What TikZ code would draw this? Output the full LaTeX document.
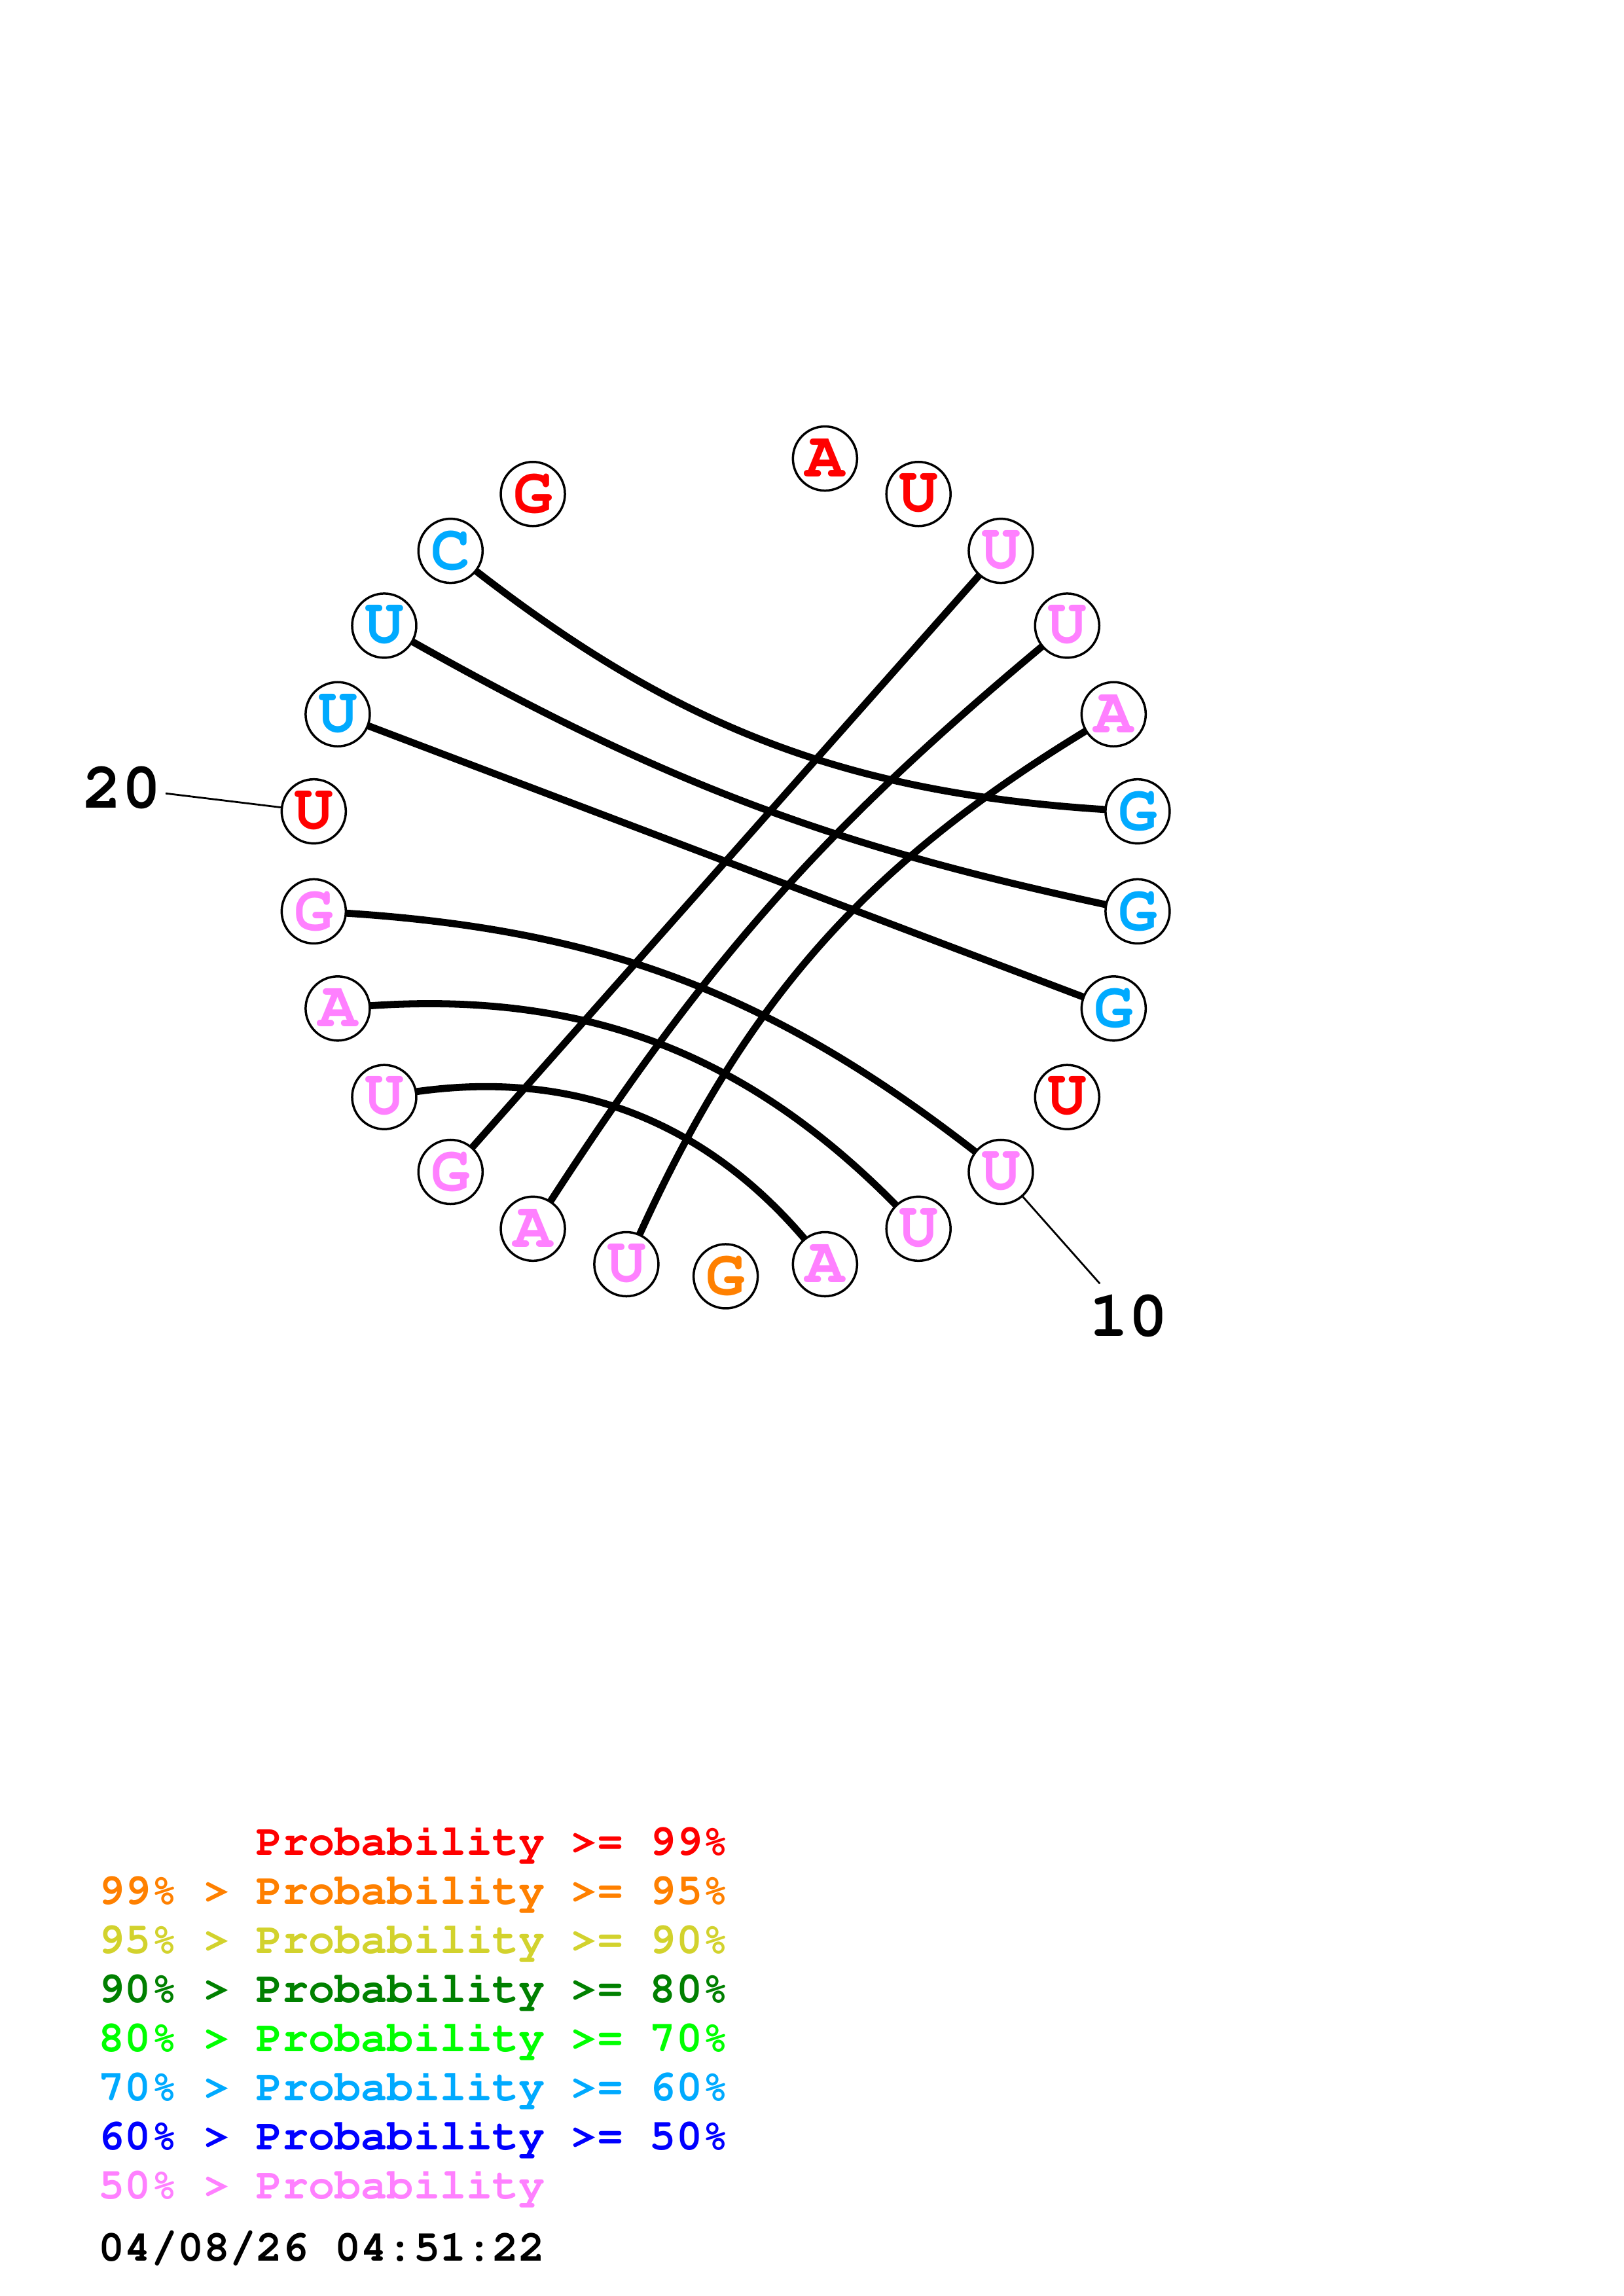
\documentclass[tikz,border=0pt]{standalone}
\usepackage[T1]{fontenc}
\usetikzlibrary{backgrounds}
\definecolor{prob99}{RGB}{255,0,0}
\definecolor{prob95}{RGB}{255,128,0}
\definecolor{prob90}{RGB}{210,210,45}
\definecolor{prob80}{RGB}{0,128,0}
\definecolor{prob70}{RGB}{0,255,0}
\definecolor{prob60}{RGB}{0,170,255}
\definecolor{prob50}{RGB}{0,0,255}
\definecolor{prob00}{RGB}{255,128,255}
\newcommand{\courbf}{\fontfamily{pcr}\fontseries{b}\selectfont}

\begin{document}
\begin{tikzpicture}[every node/.style={font=\courbf},
  nuc/.style={circle, draw, fill=white, line width=0.84pt, minimum size=0.83cm, inner sep=0pt, font=\courbf\fontsize{24}{24}\selectfont},
  pair/.style={line width=2.6pt},
  leader/.style={line width=0.68pt},
  num/.style={inner sep=0pt, font=\courbf\fontsize{24}{24}\selectfont},
  keyline/.style={anchor=base west, inner sep=0pt, font=\courbf\fontsize{16.1}{18}\selectfont}]
\useasboundingbox (0,0) rectangle (21,-29.7);
\begin{scope}[shift={(9.386,-11.142)}]
\node[nuc,text=prob99] (n1) at (76.15:5.367) {A};
\node[nuc,text=prob99] (n2) at (62.31:5.367) {U};
\node[nuc,text=prob00] (n3) at (48.46:5.367) {U};
\node[nuc,text=prob00] (n4) at (34.62:5.367) {U};
\node[nuc,text=prob00] (n5) at (20.77:5.367) {A};
\node[nuc,text=prob60] (n6) at (6.92:5.367) {G};
\node[nuc,text=prob60] (n7) at (-6.92:5.367) {G};
\node[nuc,text=prob60] (n8) at (-20.77:5.367) {G};
\node[nuc,text=prob99] (n9) at (-34.62:5.367) {U};
\node[nuc,text=prob00] (n10) at (-48.46:5.367) {U};
\node[nuc,text=prob00] (n11) at (-62.31:5.367) {U};
\node[nuc,text=prob00] (n12) at (-76.15:5.367) {A};
\node[nuc,text=prob95] (n13) at (-90:5.367) {G};
\node[nuc,text=prob00] (n14) at (-103.85:5.367) {U};
\node[nuc,text=prob00] (n15) at (-117.69:5.367) {A};
\node[nuc,text=prob00] (n16) at (-131.54:5.367) {G};
\node[nuc,text=prob00] (n17) at (-145.38:5.367) {U};
\node[nuc,text=prob00] (n18) at (-159.23:5.367) {A};
\node[nuc,text=prob00] (n19) at (-173.08:5.367) {G};
\node[nuc,text=prob99] (n20) at (173.08:5.367) {U};
\node[nuc,text=prob60] (n21) at (159.23:5.367) {U};
\node[nuc,text=prob60] (n22) at (145.38:5.367) {U};
\node[nuc,text=prob60] (n23) at (131.54:5.367) {C};
\node[nuc,text=prob99] (n24) at (117.69:5.367) {G};
\begin{pgfonlayer}{background}
\draw[pair] (n23.center) to[bend right=18] (n6.center);
\draw[pair] (n22.center) to[bend right=9] (n7.center);
\draw[pair] (n21.center) -- (n8.center);
\draw[pair] (n10.center) to[bend right=18] (n19.center);
\draw[pair] (n11.center) to[bend right=26.5] (n18.center);
\draw[pair] (n12.center) to[bend right=32] (n17.center);
\draw[pair] (n3.center) -- (n16.center);
\draw[pair] (n4.center) to[bend right=9] (n15.center);
\draw[pair] (n5.center) to[bend right=18] (n14.center);
\end{pgfonlayer}
\coordinate (t10) at (-48.46:7.298);
\coordinate (t20) at (173.08:7.298);
\draw[leader] (n10) -- (t10);
\draw[leader] (n20) -- (t20);
\node[num] (l10) at (-48.46:7.864) {10};
\node[num] (l20) at (173.08:7.864) {20};
\end{scope}
\node[keyline,text=prob99] (k99) at (1.27,-23.996) {\phantom{99\% > }Probability >= 99\%};
\node[keyline,text=prob95] (k95) at (1.27,-24.631) {99\% > Probability >= 95\%};
\node[keyline,text=prob90] (k90) at (1.27,-25.266) {95\% > Probability >= 90\%};
\node[keyline,text=prob80] (k80) at (1.27,-25.901) {90\% > Probability >= 80\%};
\node[keyline,text=prob70] (k70) at (1.27,-26.536) {80\% > Probability >= 70\%};
\node[keyline,text=prob60] (k60) at (1.27,-27.171) {70\% > Probability >= 60\%};
\node[keyline,text=prob50] (k50) at (1.27,-27.806) {60\% > Probability >= 50\%};
\node[keyline,text=prob00] (k00) at (1.27,-28.441) {50\% > Probability};
\node[keyline] (stamp) at (1.27,-29.247) {04/08/26 04:51:22};
\end{tikzpicture}
\end{document}
